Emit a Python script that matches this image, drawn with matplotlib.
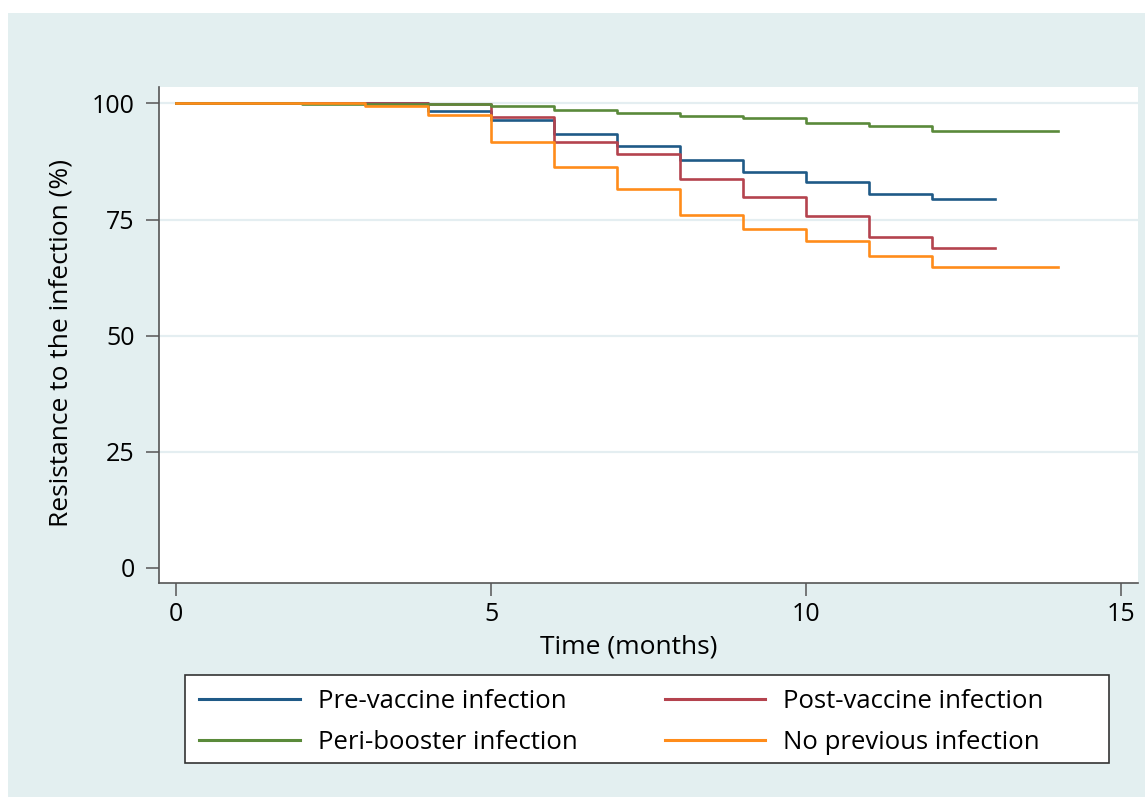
# Kaplan-Meier style curves: resistance to infection by previous-infection group
import matplotlib.pyplot as plt
from matplotlib.patches import Rectangle

# Data
# -----------------------------------
pre_t = [0, 4, 5, 6, 7, 8, 9, 10, 11, 12, 13]
pre_s = [100, 98.3, 96.5, 93.4, 90.8, 87.9, 85.3, 83.2, 80.5, 79.5, 79.5]

post_t = [0, 4, 5, 6, 7, 8, 9, 10, 11, 12, 13]
post_s = [100, 99.8, 97.1, 91.8, 89.1, 83.7, 79.8, 75.7, 71.3, 68.8, 68.8]

peri_t = [0, 2, 5, 6, 7, 8, 9, 10, 11, 12, 14]
peri_s = [100, 99.8, 99.4, 98.5, 97.9, 97.3, 96.8, 95.9, 95.1, 94.0, 94.0]

none_t = [0, 3, 4, 5, 6, 7, 8, 9, 10, 11, 12, 14]
none_s = [100, 99.5, 97.6, 91.7, 86.3, 81.5, 76.1, 72.9, 70.4, 67.1, 64.8, 64.8]

labels = ["Pre-vaccine infection", "Post-vaccine infection",
          "Peri-booster infection", "No previous infection"]
colors = ["#1f5a87", "#b4434e", "#5a8a3a", "#ff8c1a"]

x_ticks = [0, 5, 10, 15]
y_ticks = [0, 25, 50, 75, 100]

# Figure
# ------
plt.rcParams['font.family'] = ['Open Sans', 'DejaVu Sans']

fig = plt.figure(figsize=(11.45, 7.97), dpi=100)
fig.patch.set_facecolor('white')

# light bluish graph region behind everything
W, H = 1145, 797
fig.patches.append(Rectangle((8 / W, 0), 1 - 8 / W, (H - 13) / H,
                             transform=fig.transFigure, facecolor='#e3eff0',
                             edgecolor='none', zorder=-10))

ax = fig.add_axes([159 / W, (H - 583) / H, (1138 - 159) / W, (583 - 87) / H])
ax.set_zorder(1)
ax.set_facecolor('white')

for yv in [25, 50, 75, 100]:
    ax.axhline(yv, color='#e4eef1', lw=1.6, zorder=1)

series = [(pre_t, pre_s), (post_t, post_s), (peri_t, peri_s), (none_t, none_s)]
handles = []
for (t, s), lab, col in zip(series, labels, colors):
    h, = ax.step(t, s, where='post', color=col, lw=1.9, label=lab, zorder=3)
    handles.append(h)

ax.set_xlim(-0.27, 15.27)
ax.set_ylim(-3.23, 103.55)
ax.set_xticks(x_ticks)
ax.set_yticks(y_ticks)

for side in ['top', 'right']:
    ax.spines[side].set_visible(False)
for side in ['left', 'bottom']:
    ax.spines[side].set_color('#555555')
    ax.spines[side].set_linewidth(1.2)

ax.tick_params(axis='both', direction='out', length=9.5, width=1.1,
               color='#555555', labelsize=18, labelcolor='black')
ax.tick_params(axis='y', pad=8)
ax.tick_params(axis='x', pad=4)

ax.set_xlabel("Time (months)", fontsize=19)
ax.set_ylabel("Resistance to the infection (%)", fontsize=19)
ax.xaxis.set_label_coords((629 - 159) / 979, (583 - 634) / 496)
ax.yaxis.set_label_coords((74 - 159) / 979, (583 - 343) / 496)

# Legend box below the plot, entries filled row by row
fig.patches.append(Rectangle((185 / W, (H - 763) / H), 924 / W, 88 / H,
                             transform=fig.transFigure, facecolor='white',
                             edgecolor='#333333', lw=1.2, zorder=1))
order = [0, 2, 1, 3]
leg = fig.legend([handles[i] for i in order], [labels[i] for i in order],
                 loc='upper left', ncol=2, borderaxespad=0,
                 bbox_to_anchor=(185 / W, (H - 675) / H),
                 fontsize=18.5, handlelength=3.9, handletextpad=0.7,
                 labelspacing=0.6, borderpad=0.56, columnspacing=3.4,
                 frameon=False)
for line in leg.get_lines():
    line.set_linewidth(2.2)

fig.savefig("out.png", dpi=100)
